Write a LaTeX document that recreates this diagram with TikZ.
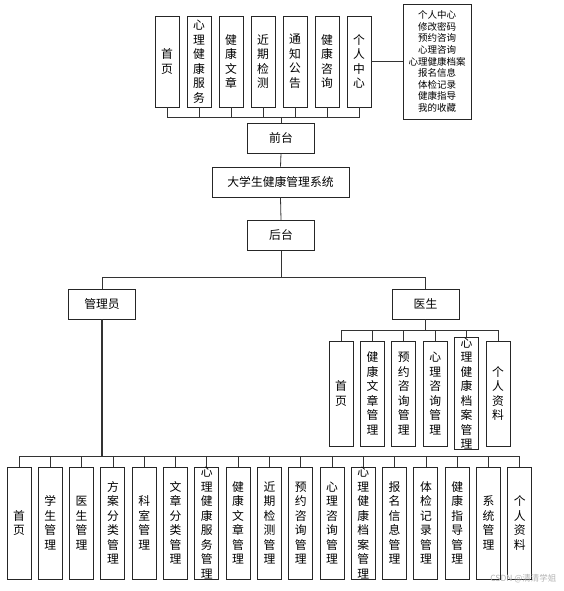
\documentclass[tikz,border=0pt]{standalone}
\usepackage{fontspec}
\setmainfont{Noto Sans CJK SC}
\begin{document}
\begin{tikzpicture}[x=1pt, y=-1pt,
	box/.style={draw=black!85, line width=0.9pt, inner sep=0pt, align=center, font=\fontsize{11.8}{14.5}\selectfont},
	tallbox/.style={box, minimum width=24pt},
	flatbox/.style={box, minimum width=67pt, minimum height=30pt},
	link/.style={draw=black!80, line width=0.8pt}]
	\useasboundingbox (0,0) rectangle (563,591);
	% Front end row:
	\foreach \t [count=\i] in {{首\\页},{心\\理\\健\\康\\服\\务},{健\\康\\文\\章},{近\\期\\检\\测},{通\\知\\公\\告},{健\\康\\咨\\询},{个\\人\\中\\心}}
		\node[tallbox, minimum height=91pt] (t\i) at ({167+32*(\i-1)}, 61.5){\t};
	\node[box, minimum width=68pt, minimum height=115pt, font=\fontsize{9.5}{11.6}\selectfont] (plist) at (437, 61.5){个人中心\\修改密码\\预约咨询\\心理咨询\\心理健康档案\\报名信息\\体检记录\\健康指导\\我的收藏};
	\node[flatbox] (qiantai) at (281, 138){前台};
	\node[flatbox, minimum width=137pt] (sys) at (280.5, 182){大学生健康管理系统};
	\node[flatbox] (houtai) at (281, 235.5){后台};
	\node[flatbox] (admin) at (102, 304){管理员};
	\node[flatbox] (doctor) at (425.5, 304){医生};
	% Doctor row:
	\foreach \t [count=\i] in {{首\\页},{健\\康\\文\\章\\管\\理},{预\\约\\咨\\询\\管\\理},{心\\理\\咨\\询\\管\\理},{心\\理\\健\\康\\档\\案\\管\\理},{个\\人\\资\\料}}
		\node[tallbox, minimum height=105pt] (d\i) at ({341+31.4*(\i-1)}, 393.5){\t};
	% Admin row:
	\foreach \t [count=\i] in {{首\\页},{学\\生\\管\\理},{医\\生\\管\\理},{方\\案\\分\\类\\管\\理},{科\\室\\管\\理},{文\\章\\分\\类\\管\\理},{心\\理\\健\\康\\服\\务\\管\\理},{健\\康\\文\\章\\管\\理},{近\\期\\检\\测\\管\\理},{预\\约\\咨\\询\\管\\理},{心\\理\\咨\\询\\管\\理},{心\\理\\健\\康\\档\\案\\管\\理},{报\\名\\信\\息\\管\\理},{体\\检\\记\\录\\管\\理},{健\\康\\指\\导\\管\\理},{系\\统\\管\\理},{个\\人\\资\\料}}
		\node[tallbox, minimum height=112pt] (a\i) at ({19+31.3*(\i-1)}, 523){\t};
	% Buses:
	\coordinate (fbus) at (281, 117);
	\coordinate (rbus) at (281, 277);
	\coordinate (dbus) at (425.5, 330);
	\coordinate (abus) at (102, 456);
	% Wires:
	\foreach \i in {1,...,7}
		\draw[link] (t\i.south) |- (fbus);
	\draw[link] (fbus) -- (qiantai.north);
	\draw[link] (t7.east) -- (plist.west);
	\draw[link] (qiantai.south) -- (sys.north);
	\draw[link] (sys.south) -- (houtai.north);
	\draw[link] (houtai.south) -- (rbus);
	\draw[link] (admin.north) |- (rbus);
	\draw[link] (doctor.north) |- (rbus);
	\draw[link, line width=1.2pt] (doctor.south) -- (dbus);
	\foreach \i in {1,...,6}
		\draw[link] (d\i.north) |- (dbus);
	\draw[link, line width=1.7pt] (admin.south) -- (abus);
	\foreach \i in {1,...,17}
		\draw[link] (a\i.north) |- (abus);
	\node[text=black!30, font=\fontsize{8.5}{10}\selectfont, anchor=east] (mark) at (560, 579){CSDN @清清学姐};
\end{tikzpicture}
\end{document}
